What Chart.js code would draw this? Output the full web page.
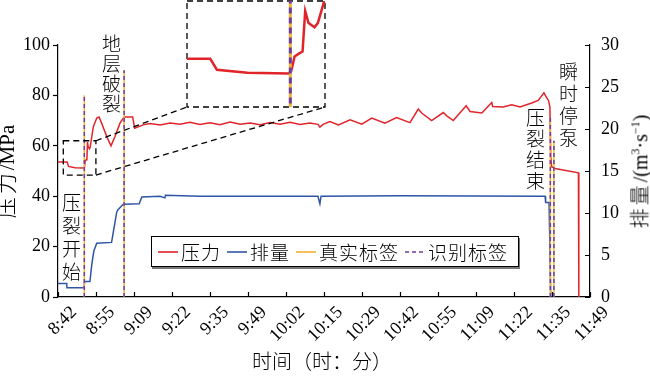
<!DOCTYPE html>
<html>
<head>
<meta charset="utf-8">
<script src="https://cdn.jsdelivr.net/npm/chart.js@4.4.1/dist/chart.umd.min.js"></script>
<style>
  body { margin: 0; background: #fff; }
  #wrap { position: relative; width: 650px; height: 377px; overflow: hidden; }
  #mainBox { position: absolute; left: 0; top: 0; width: 650px; height: 377px; }
  #insetBox { position: absolute; left: 187px; top: 1px; width: 138px; height: 106px; }
  .vt { position: absolute; writing-mode: vertical-rl; font-family: "Noto Sans CJK SC", sans-serif; font-weight: 300; font-size: 19px; line-height: 1; color: #000; }
  .title { position: absolute; font-family: "Liberation Serif", "Noto Sans CJK SC", serif; color: #000; white-space: nowrap; line-height: 1; }
  .title .cjk { font-family: "Noto Sans CJK SC", sans-serif; font-weight: 300; letter-spacing: 3px; }
  #legend { position: absolute; left: 151px; top: 236px; width: 368px; height: 31px; box-sizing: border-box;
            border: 1px solid #000; background: #fff; box-shadow: 1px 2px 0 #777;
            display: flex; align-items: center; padding-left: 6px; white-space: nowrap;
            font-family: "Noto Sans CJK SC", sans-serif; font-weight: 300; font-size: 19px; line-height: 1; color: #000; }
  #legend .it { display: flex; flex-shrink: 0; align-items: center; margin-right: 6px; letter-spacing: 1px; }
  #legend svg { margin-right: 3px; flex-shrink: 0; }
</style>
</head>
<body>
<div id="wrap">
  <div id="mainBox"><canvas id="mainChart"></canvas></div>
  <div id="insetBox"><canvas id="insetChart"></canvas></div>

  <div class="vt" style="left:62px; top:193px; letter-spacing:4px;">压裂开始</div>
  <div class="vt" style="left:102px; top:34px; letter-spacing:1px;">地层破裂</div>
  <div class="vt" style="left:526px; top:108px; letter-spacing:2px;">压裂结束</div>
  <div class="vt" style="left:559px; top:62px; letter-spacing:3px;">瞬时停泵</div>

  <div class="title" style="left:-40px; top:160px; font-size:21px; transform:rotate(-90deg); transform-origin:center;"><span class="cjk">压力</span>/MPa</div>
  <div class="title" style="left:583px; top:161px; font-size:20px; transform:rotate(-90deg); transform-origin:center;"><span class="cjk">排量</span>/(m<sup style="font-size:12px">3</sup>·s<sup style="font-size:12px">−1</sup>)</div>
  <div class="title" style="left:252px; top:351px; font-size:20px;"><span class="cjk" style="letter-spacing:0">时间（时：分）</span></div>

  <div id="legend">
    <span class="it"><svg width="20" height="4"><line x1="0" y1="2" x2="20" y2="2" stroke="#e0242a" stroke-width="1.6"/></svg>压力</span>
    <span class="it"><svg width="20" height="4"><line x1="0" y1="2" x2="20" y2="2" stroke="#2f56a6" stroke-width="1.6"/></svg>排量</span>
    <span class="it"><svg width="20" height="4"><line x1="0" y1="2" x2="20" y2="2" stroke="#f2b134" stroke-width="1.6"/></svg>真实标签</span>
    <span class="it"><svg width="20" height="4"><line x1="0" y1="2" x2="20" y2="2" stroke="#6b3fa0" stroke-width="1.6" stroke-dasharray="4,3"/></svg>识别标签</span>
  </div>
</div>

<script>
// ---- 数据 ----
// 时间轴：从 8:42 开始的分钟数，每个刻度 800 s
const tickLabels = ['8:42', '8:55', '9:09', '9:22', '9:35', '9:49', '10:02', '10:15',
                    '10:29', '10:42', '10:55', '11:09', '11:22', '11:35', '11:49'];
const tickStep = 800 / 60;
const xMax = tickStep * (tickLabels.length - 1);

// 压力 (MPa)
const pressureMin = [0, 3.2, 3.7, 6.0, 9.1, 9.3, 9.55, 9.9, 10.15, 10.35, 10.6, 11.05, 11.3, 11.7,
  12.4, 13.6, 14.4, 15.3, 17.1, 18.6, 20.0, 21.75, 23.2, 26.2, 26.9, 29.9,
  32.3, 35.8, 39.3, 42.8, 46.3, 49.8, 53.3, 56.8, 60.4, 63.9, 67.4, 70.9, 74.4, 77.9,
  81.4, 84.9, 88.4, 91.2, 91.9, 93.0, 95.4, 98.4, 102.5, 106.6, 110.1, 114.7, 118.8,
  123.5, 126.4, 127.6, 131.1, 135.2, 136.4, 138.7, 143.2, 144.6, 148.7, 152.2, 152.5,
  156.2, 159.2, 162.1, 166.2, 168.5, 170.5, 171.5, 172.1, 172.6, 172.9, 173.2, 174.4,
  182.6, 182.7, 182.8];
const pressureMPa = [53.6, 53.6, 51.8, 51.3, 51.2, 51.6, 54.0, 54.5, 54.8, 61.5, 59.5, 58.8, 59.5, 62.5,
  67.6, 71.0, 71.4, 69.0, 63.7, 60.0, 63.7, 69.0, 71.4, 71.4, 67.0, 68.3,
  68.8, 68.3, 69.0, 68.6, 69.3, 68.5, 69.1, 68.4, 69.4, 68.6, 69.0, 68.4, 69.2, 68.6,
  69.3, 68.5, 69.0, 68.5, 67.4, 68.5, 69.6, 68.3, 70.3, 68.6, 71.0, 69.0, 71.2,
  69.2, 74.6, 73.0, 70.0, 73.2, 71.9, 70.0, 75.9, 73.6, 73.0, 77.2, 75.6,
  75.4, 76.3, 75.4, 77.0, 78.0, 81.0, 79.0, 78.0, 75.4, 55.7, 51.7, 51.0,
  49.3, 30.0, 0];

// 排量 (m3/s)
const rateMin = [0, 3.05, 3.16, 9.1, 9.37, 11.2, 11.9, 12.6, 13.6, 18.8, 19.3, 20.6, 21.05, 22.9,
  28.5, 29.4, 35.8, 37.5, 37.7, 49.8, 91.2, 91.9, 92.3, 120.0, 170.9, 171.1, 172.3, 172.9];
const rateVal = [1.6, 1.6, 1.1, 1.1, 1.85, 1.85, 4.0, 5.5, 6.4, 6.5, 7.5, 10.1, 10.4, 11.05,
  11.1, 11.9, 12.0, 11.8, 12.1, 12.0, 12.0, 11.1, 12.0, 12.05, 12.0, 11.25, 11.25, 0];

// 标签：压裂开始、地层破裂、压裂结束、瞬时停泵
const labelMin = [9.23, 23.2, 172.75, 174.0];
const labelTop = [80, 90, 71, 62];   // 竖线高度 (MPa)

// 放大框（主图中的虚线框）
const zoomMin = [1.86, 13.3];
const zoomMPa = [48.4, 62];
// 放大图的显示范围
const insetMin = [1.45, 11.84];
const insetMPa = [45.65, 63.15];

// ---- 样式 ----
const RED = '#e0242a';
const BLUE = '#2f56a6';
const ORANGE = '#f2b134';
const PURPLE = '#6b3fa0';
const FONT = "'Liberation Serif', 'Times New Roman', serif";

const pressurePts = pressureMin.map((t, i) => ({ x: t, y: pressureMPa[i] }));
const ratePts = rateMin.map((t, i) => ({ x: t, y: rateVal[i] }));

function labelSets(width, dash) {
  const purple = labelMin.map((t, i) => ({
    data: [{ x: t, y: 0 }, { x: t, y: labelTop[i] }],
    borderColor: PURPLE, borderWidth: width, borderDash: dash,
    pointRadius: 0, yAxisID: 'y'
  }));
  const orange = labelMin.map((t, i) => ({
    data: [{ x: t, y: 0 }, { x: t, y: labelTop[i] }],
    borderColor: ORANGE, borderWidth: width,
    pointRadius: 0, yAxisID: 'y'
  }));
  return purple.concat(orange);
}

// 自定义绘制：向内的刻度线、放大虚线框与连接线
const extras = {
  id: 'extras',
  afterDraw(chart) {
    const { ctx, chartArea: a } = chart;
    const { x, y, y1 } = chart.scales;
    ctx.save();
    ctx.strokeStyle = '#000';
    ctx.lineWidth = 1.2;
    ctx.beginPath();
    x.ticks.forEach(t => {
      const px = Math.round(x.getPixelForValue(t.value)) + 0.5;
      ctx.moveTo(px, a.bottom);
      ctx.lineTo(px, a.bottom - 5);
    });
    y1.ticks.forEach(t => {
      const py = Math.round(y1.getPixelForValue(t.value)) + 0.5;
      ctx.moveTo(a.right, py);
      ctx.lineTo(a.right - 5, py);
    });
    ctx.stroke();

    const bx0 = x.getPixelForValue(zoomMin[0]);
    const bx1 = x.getPixelForValue(zoomMin[1]);
    const by0 = y.getPixelForValue(zoomMPa[1]);
    const by1 = y.getPixelForValue(zoomMPa[0]);
    const inset = document.getElementById('insetBox');
    const il = inset.offsetLeft, it = inset.offsetTop;
    const iw = inset.offsetWidth, ih = inset.offsetHeight;

    ctx.setLineDash([6, 4]);
    ctx.lineWidth = 1.3;
    ctx.strokeRect(bx0, by0, bx1 - bx0, by1 - by0);
    ctx.strokeRect(il, it, iw, ih);
    ctx.beginPath();
    ctx.moveTo(bx1, by0);
    ctx.lineTo(il, it + ih);
    ctx.moveTo(bx1, by1);
    ctx.lineTo(il + iw, it + ih);
    ctx.stroke();
    ctx.restore();
  }
};

// ---- 主图 ----
const mainChart = new Chart(document.getElementById('mainChart'), {
  type: 'line',
  data: {
    datasets: labelSets(1.5, [4, 3]).concat([
      { data: pressurePts, borderColor: RED, borderWidth: 1.5, pointRadius: 0, yAxisID: 'y' },
      { data: ratePts, borderColor: BLUE, borderWidth: 1.5, pointRadius: 0, yAxisID: 'y1' }
    ])
  },
  options: {
    responsive: true,
    maintainAspectRatio: false,
    animation: false,
    layout: { padding: { top: 45, left: 0, right: 0, bottom: 0 } },
    plugins: { legend: { display: false }, tooltip: { enabled: false } },
    scales: {
      x: {
        type: 'linear', min: 0, max: xMax,
        afterBuildTicks: s => { s.ticks = tickLabels.map((_, i) => ({ value: i * tickStep })); },
        afterFit: s => { s.height = 80; },
        ticks: {
          callback: (v, i) => tickLabels[i],
          autoSkip: false, maxRotation: 45, minRotation: 45,
          labelOffset: 16, padding: 5,
          font: { family: FONT, size: 18 }, color: '#000'
        },
        grid: { display: false, drawTicks: false },
        border: { display: true, color: '#000', width: 1.2 }
      },
      y: {
        position: 'left', min: 0, max: 100,
        afterFit: s => { s.width = 58; },
        ticks: { stepSize: 20, padding: 3, font: { family: FONT, size: 18 }, color: '#000' },
        grid: { drawOnChartArea: false, tickLength: 5, color: '#000', tickWidth: 1.2 },
        border: { display: true, color: '#000', width: 1.2 }
      },
      y1: {
        position: 'right', min: 0, max: 30,
        afterFit: s => { s.width = 60; },
        ticks: { stepSize: 5, padding: 11, font: { family: FONT, size: 18 }, color: '#000' },
        grid: { display: false, drawTicks: false },
        border: { display: true, color: '#000', width: 1.2 }
      }
    }
  },
  plugins: [extras]
});

// ---- 放大图 ----
const insetChart = new Chart(document.getElementById('insetChart'), {
  type: 'line',
  data: {
    datasets: labelSets(3, [6, 4]).concat([
      { data: pressurePts, borderColor: RED, borderWidth: 2.5, pointRadius: 0, yAxisID: 'y' }
    ])
  },
  options: {
    responsive: true,
    maintainAspectRatio: false,
    animation: false,
    layout: { padding: 0 },
    plugins: { legend: { display: false }, tooltip: { enabled: false } },
    scales: {
      x: { type: 'linear', min: insetMin[0], max: insetMin[1], display: false },
      y: { min: insetMPa[0], max: insetMPa[1], display: false }
    }
  }
});
</script>
</body>
</html>
